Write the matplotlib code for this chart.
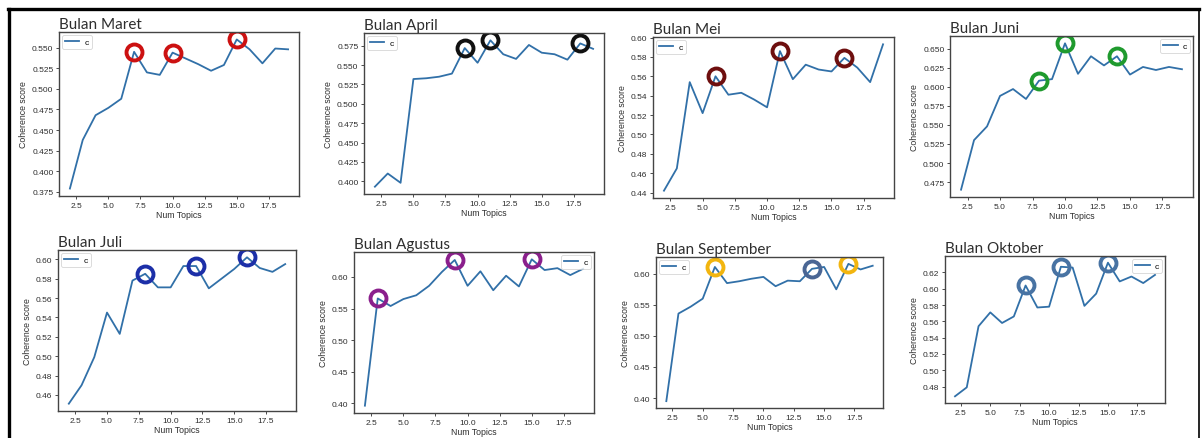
"""
Coherence score per number of topics for each month (Maret - Oktober).
Recreates the 2x4 grid of LDA coherence curves with highlighted peaks.
"""

import matplotlib
matplotlib.use("Agg")
import matplotlib.pyplot as plt
from matplotlib.lines import Line2D

# Number of topics tried on every month
num_topics = list(range(2, 20))

# Coherence scores, one list per month
maret = [0.379, 0.438, 0.468, 0.477, 0.488, 0.545, 0.520, 0.517, 0.544, 0.537,
         0.530, 0.522, 0.529, 0.560, 0.548, 0.531, 0.549, 0.548]
april = [0.393, 0.410, 0.398, 0.532, 0.533, 0.535, 0.539, 0.572, 0.553, 0.582,
         0.564, 0.558, 0.576, 0.566, 0.564, 0.557, 0.578, 0.571]
mei = [0.442, 0.465, 0.554, 0.522, 0.560, 0.541, 0.543, 0.536, 0.528, 0.586,
       0.557, 0.572, 0.567, 0.565, 0.579, 0.569, 0.554, 0.593]
juni = [0.465, 0.530, 0.548, 0.588, 0.597, 0.584, 0.608, 0.610, 0.657, 0.617,
        0.640, 0.628, 0.640, 0.616, 0.626, 0.622, 0.626, 0.623]
juli = [0.451, 0.470, 0.499, 0.545, 0.523, 0.578, 0.585, 0.571, 0.571, 0.593,
        0.593, 0.570, 0.580, 0.590, 0.602, 0.591, 0.587, 0.595]
agustus = [0.396, 0.566, 0.554, 0.565, 0.571, 0.586, 0.608, 0.627, 0.586, 0.609,
           0.579, 0.602, 0.585, 0.628, 0.611, 0.614, 0.603, 0.613]
september = [0.395, 0.536, 0.547, 0.560, 0.611, 0.585, 0.588, 0.592, 0.595, 0.580,
             0.589, 0.588, 0.608, 0.611, 0.575, 0.616, 0.607, 0.613]
oktober = [0.468, 0.479, 0.554, 0.571, 0.558, 0.566, 0.604, 0.577, 0.578, 0.627,
           0.626, 0.579, 0.594, 0.632, 0.609, 0.615, 0.607, 0.617]

titles = ["Bulan Maret", "Bulan April", "Bulan Mei", "Bulan Juni",
          "Bulan Juli", "Bulan Agustus", "Bulan September", "Bulan Oktober"]
scores = [maret, april, mei, juni, juli, agustus, september, oktober]

# Topic counts circled in each panel, with the circle colour
highlights = [
    [(7, "#cc1111"), (10, "#cc1111"), (15, "#cc1111")],
    [(9, "#111111"), (11, "#111111"), (18, "#111111")],
    [(6, "#6e0f0f"), (11, "#6e0f0f"), (16, "#6e0f0f")],
    [(8, "#1f9a2e"), (10, "#1f9a2e"), (14, "#1f9a2e")],
    [(8, "#1c2fa8"), (12, "#1c2fa8"), (16, "#1c2fa8")],
    [(3, "#8a1f8c"), (9, "#8a1f8c"), (15, "#8a1f8c")],
    [(6, "#f2b50f"), (14, "#4a6694"), (17, "#f2b50f")],
    [(8, "#4873a3"), (11, "#4873a3"), (15, "#4873a3")],
]

# Tick values shown on each panel
x_ticks = [2.5, 5.0, 7.5, 10.0, 12.5, 15.0, 17.5]
y_ticks = [
    [0.375, 0.400, 0.425, 0.450, 0.475, 0.500, 0.525, 0.550],
    [0.400, 0.425, 0.450, 0.475, 0.500, 0.525, 0.550, 0.575],
    [0.44, 0.46, 0.48, 0.50, 0.52, 0.54, 0.56, 0.58, 0.60],
    [0.475, 0.500, 0.525, 0.550, 0.575, 0.600, 0.625, 0.650],
    [0.46, 0.48, 0.50, 0.52, 0.54, 0.56, 0.58, 0.60],
    [0.40, 0.45, 0.50, 0.55, 0.60],
    [0.40, 0.45, 0.50, 0.55, 0.60],
    [0.48, 0.50, 0.52, 0.54, 0.56, 0.58, 0.60, 0.62],
]
legend_loc = ["upper left", "upper left", "upper left", "upper right",
              "upper left", "upper right", "upper left", "upper right"]

# Axes boxes in pixels (left, top, right, bottom) as cut from the screenshot
W, H = 1203, 439
boxes = [
    (59, 33, 299, 197), (364, 34, 604, 195), (653, 38, 894, 199), (950, 37, 1193, 198),
    (58, 251, 296, 412), (354, 253, 594, 414), (656, 258, 883, 409), (945, 257, 1165, 404),
]

tick_font = ["Liberation Sans Narrow", "Liberation Sans", "DejaVu Sans"]
line_color = "#3170a8"
text_color = "#2e2e2e"

fig = plt.figure(figsize=(W / 100, H / 100), dpi=100)
fig.patch.set_facecolor("white")

for i in range(8):
    l, t, r, b = boxes[i]
    ax = fig.add_axes([l / W, 1 - b / H, (r - l) / W, (b - t) / H])
    y = scores[i]
    ax.plot(num_topics, y, color=line_color, lw=1.3, label="c")

    # Circle the chosen topic counts
    for k, color in highlights[i]:
        ax.plot([k], [y[num_topics.index(k)]], marker="o", ms=11.5, mfc="none",
                mec=color, mew=2.8, ls="none")

    ax.set_xticks(x_ticks)
    ax.set_yticks(y_ticks[i])
    ax.tick_params(labelsize=6, length=2.5, width=0.6, pad=1.5,
                   colors=text_color)
    for lab in ax.get_xticklabels() + ax.get_yticklabels():
        lab.set_family(tick_font)
    for s in ax.spines.values():
        s.set_color("#444444")
        s.set_linewidth(1.0)

    ax.set_xlabel("Num Topics", fontsize=6.3, family=tick_font, color=text_color,
                  labelpad=1)
    ax.set_ylabel("Coherence score", fontsize=6.3, family=tick_font,
                  color=text_color, labelpad=3)
    ax.set_title(titles[i], loc="left", fontsize=11, family=["Lato", "DejaVu Sans"],
                 color=text_color, pad=3)

    leg = ax.legend(loc=legend_loc[i], handlelength=1.7,
                    borderpad=0.35, handletextpad=0.6, borderaxespad=0.4,
                    prop={"family": tick_font, "size": 6})
    leg.get_frame().set_edgecolor("#cccccc")
    leg.get_frame().set_linewidth(0.6)

# Black frame around the whole screenshot
fig.add_artist(Line2D([9 / W, 9 / W], [0, 1 - 10 / H], color="black", lw=2.4))
fig.add_artist(Line2D([8 / W, 1199 / W], [1 - 10 / H, 1 - 10 / H], color="black", lw=2.4))
fig.add_artist(Line2D([1199 / W, 1199 / W], [0, 1 - 10 / H], color="black", lw=1.2))

fig.savefig("out.png", dpi=100, facecolor="white")
plt.close(fig)
